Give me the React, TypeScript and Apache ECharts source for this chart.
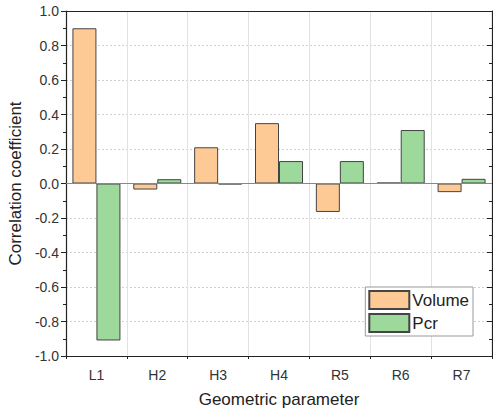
import React, { useEffect, useRef } from "react";
import * as echarts from "echarts";

const categories = ["L1", "H2", "H3", "H4", "R5", "R6", "R7"];
const volume = [0.9, -0.035, 0.21, 0.35, -0.165, 0.005, -0.05];
const pcr = [-0.91, 0.025, -0.005, 0.13, 0.13, 0.31, 0.027];
const yTicks = [-1, 1, 0.2];

const FONT = "Liberation Sans, Arial, sans-serif";

export default function App() {
  const ref = useRef<HTMLDivElement>(null);
  useEffect(() => {
    if (!ref.current) return;
    const chart = echarts.init(ref.current, null, { renderer: "svg" });
    const axisLineStyle = { color: "#222", width: 1.2 };
    chart.setOption({
      animation: false,
      textStyle: { fontFamily: FONT },
      grid: { left: 66, right: 1, top: 11, bottom: 52, outerBoundsMode: "none", containLabel: false },
      legend: {
        orient: "vertical",
        right: 20,
        bottom: 72,
        icon: "rect",
        itemWidth: 40,
        itemHeight: 18,
        itemGap: 3,
        padding: [3, 4, 3, 3],
        borderColor: "#999",
        borderWidth: 1,
        backgroundColor: "#fff",
        textStyle: { fontSize: 17, color: "#222", fontFamily: FONT, padding: [0, 0, 0, -2] },
        data: ["Volume", "Pcr"],
      },
      xAxis: [
        {
          type: "category",
          data: categories,
          position: "bottom",
          name: "Geometric parameter",
          nameLocation: "middle",
          nameGap: 35,
          nameTextStyle: { fontSize: 17, color: "#222", fontFamily: FONT },
          axisLine: { onZero: false, lineStyle: axisLineStyle },
          axisTick: { alignWithLabel: true, length: 5, lineStyle: { color: "#222" } },
          axisLabel: { fontSize: 14, color: "#333", margin: 12, fontFamily: FONT },
          splitLine: { show: true, lineStyle: { color: "#e2e2e2", width: 1 } },
        },
        {
          type: "category",
          data: categories,
          position: "top",
          axisLine: { onZero: false, lineStyle: axisLineStyle },
          axisTick: { alignWithLabel: true, inside: true, length: 5, lineStyle: { color: "#222" } },
          axisLabel: { show: false },
          splitLine: { show: false },
        },
        {
          type: "category",
          data: categories,
          position: "bottom",
          axisLine: { show: false, onZero: false },
          axisTick: { show: true, length: 3, lineStyle: { color: "#222" } },
          axisLabel: { show: false },
          splitLine: { show: false },
        },
      ],
      yAxis: [
        {
          type: "value",
          min: yTicks[0],
          max: yTicks[1],
          interval: yTicks[2],
          name: "Correlation coefficient",
          nameLocation: "middle",
          nameGap: 42,
          nameTextStyle: { fontSize: 17, color: "#222", fontFamily: FONT },
          axisLine: { show: true, onZero: false, lineStyle: axisLineStyle },
          axisTick: { show: true, length: 5, lineStyle: { color: "#222" } },
          minorTick: { show: true, splitNumber: 2, length: 3, lineStyle: { color: "#222" } },
          axisLabel: {
            fontSize: 14,
            color: "#333",
            margin: 7,
            fontFamily: FONT,
            formatter: (v: number) => v.toFixed(1),
          },
          splitLine: { show: true, lineStyle: { color: "#d0d0d0", type: [2, 2], width: 1 } },
        },
        {
          type: "value",
          min: yTicks[0],
          max: yTicks[1],
          interval: yTicks[2],
          position: "right",
          axisLine: { show: true, onZero: false, lineStyle: axisLineStyle },
          axisTick: { show: true, inside: true, length: 5, lineStyle: { color: "#222" } },
          minorTick: { show: true, splitNumber: 2, length: 3, lineStyle: { color: "#222" } },
          axisLabel: { show: false },
          splitLine: { show: false },
        },
      ],
      series: [
        {
          name: "Volume",
          type: "bar",
          data: volume,
          barWidth: 24,
          barGap: "0%",
          itemStyle: { color: "#FDCA96", borderColor: "#444", borderWidth: 1 },
          markLine: {
            silent: true,
            symbol: "none",
            label: { show: false },
            lineStyle: { color: "#888", type: "solid", width: 1.2 },
            data: [{ yAxis: 0 }],
          },
        },
        {
          name: "Pcr",
          type: "bar",
          data: pcr,
          barWidth: 24,
          barGap: "0%",
          itemStyle: { color: "#9CD99A", borderColor: "#444", borderWidth: 1 },
        },
      ],
    });
    return () => chart.dispose();
  }, []);
  return (
    <div
      ref={ref}
      style={{ position: "absolute", left: 0, top: 0, width: 493, height: 408 }}
    />
  );
}
